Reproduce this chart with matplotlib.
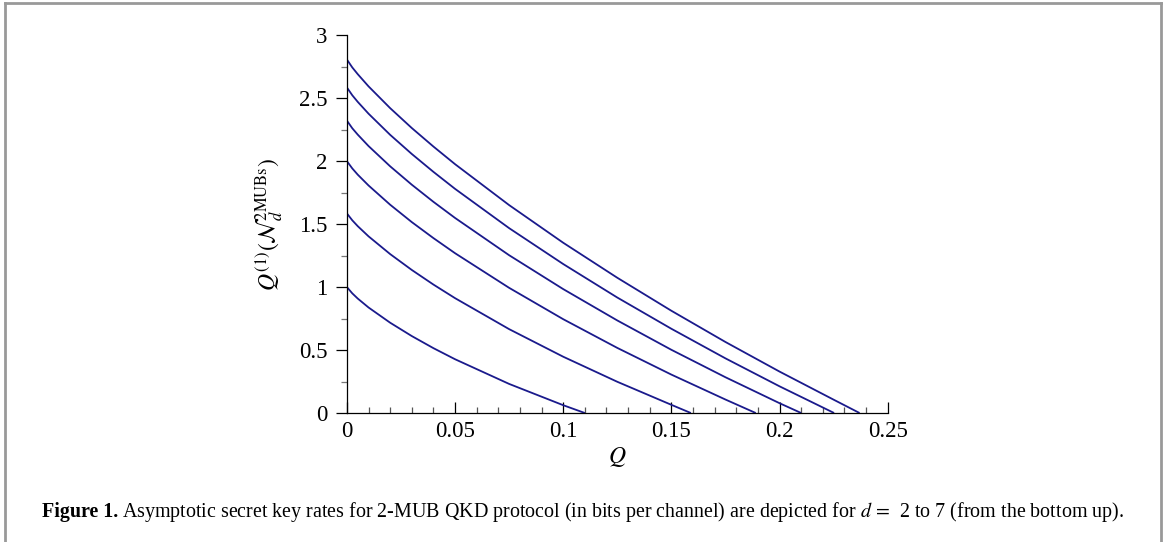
import matplotlib
matplotlib.use("Agg")
import matplotlib.pyplot as plt
from matplotlib.lines import Line2D

plt.rcParams['font.family'] = ['Liberation Serif', 'DejaVu Serif']
plt.rcParams['mathtext.fontset'] = 'stix'

# values, d = 2 ... 7 (bottom to top)
q_grid = [0, 0.0025, 0.005, 0.01, 0.02, 0.03, 0.04, 0.05, 0.075, 0.1, 0.125, 0.15, 0.175, 0.2, 0.225]
rate_d2 = [1.000, 0.950, 0.909, 0.838, 0.717, 0.611, 0.515, 0.427, 0.231, 0.062]
rate_d3 = [1.585, 1.530, 1.484, 1.403, 1.262, 1.136, 1.020, 0.912, 0.666, 0.447, 0.248, 0.065]
rate_d4 = [2.000, 1.942, 1.893, 1.807, 1.654, 1.516, 1.389, 1.269, 0.994, 0.745, 0.517, 0.305, 0.107]
rate_d5 = [2.322, 2.261, 2.211, 2.120, 1.959, 1.813, 1.677, 1.549, 1.253, 0.984, 0.735, 0.502, 0.284, 0.078]
rate_d6 = [2.585, 2.523, 2.471, 2.377, 2.209, 2.057, 1.915, 1.780, 1.468, 1.183, 0.917, 0.669, 0.434, 0.212, 0.002]
rate_d7 = [2.807, 2.744, 2.691, 2.594, 2.421, 2.263, 2.116, 1.976, 1.651, 1.352, 1.074, 0.812, 0.564, 0.329, 0.106]
q_zero = [0.110, 0.159, 0.189, 0.210, 0.2252, 0.237]
rates = [rate_d2, rate_d3, rate_d4, rate_d5, rate_d6, rate_d7]

x_ticks = [0, 0.05, 0.1, 0.15, 0.2, 0.25]
x_labels = ['0', '0.05', '0.1', '0.15', '0.2', '0.25']
y_ticks = [0, 0.5, 1, 1.5, 2, 2.5, 3]
y_labels = ['0', '0.5', '1', '1.5', '2', '2.5', '3']

fig = plt.figure(figsize=(11.68, 5.42), dpi=100)
ax = fig.add_axes([0.297, 0.238, 0.463, 0.697])

for r, qz in zip(rates, q_zero):
    xs = q_grid[:len(r)] + [qz]
    ys = r + [0]
    ax.plot(xs, ys, color='#1a1a8c', lw=1.3, solid_capstyle='butt')

ax.set_xlim(0, 0.25)
ax.set_ylim(0, 3)
for s in ['top', 'right']:
    ax.spines[s].set_visible(False)
for s in ['left', 'bottom']:
    ax.spines[s].set_linewidth(0.9)

ax.set_xticks(x_ticks)
ax.set_xticklabels(x_labels)
ax.set_yticks(y_ticks)
ax.set_yticklabels(y_labels)
ax.set_xticks([i * 0.01 for i in range(26)], minor=True)
ax.set_yticks([i * 0.25 for i in range(13)], minor=True)
ax.tick_params(axis='x', which='major', direction='in', length=8, width=0.9, labelsize=16.5, pad=6)
ax.tick_params(axis='x', which='minor', direction='in', length=4.3, width=0.9, color='#555555')
ax.tick_params(axis='y', which='major', direction='out', length=8, width=0.9, labelsize=16.5, pad=6)
ax.tick_params(axis='y', which='minor', direction='out', length=4.3, width=0.9, color='#777777')

ax.set_xlabel('$Q$', fontsize=17, labelpad=2)
ax.set_ylabel(r'$Q^{(1)}(\mathcal{N}_d^{\mathrm{2MUBs}})$', fontsize=17, labelpad=10)

# frame around the figure (no bottom edge visible)
for xs, ys in [([0.0043, 0.0043], [0, 0.9945]), ([0.0043, 0.994], [0.9945, 0.9945]), ([0.994, 0.994], [0.9945, 0])]:
    fig.add_artist(Line2D(xs, ys, transform=fig.transFigure, color='#999999', lw=2))

# caption
fig.canvas.draw()
renderer = fig.canvas.get_renderer()
cap_y = 0.046
t1 = fig.text(0.036, cap_y, 'Figure 1.', fontsize=14.4, fontweight='bold', va='baseline')
bb = t1.get_window_extent(renderer).transformed(fig.transFigure.inverted())
fig.text(bb.x1 + 0.003, cap_y,
         'Asymptotic secret key rates for 2-MUB QKD protocol (in bits per channel) '
         'are depicted for $d\\, =\\,$ 2 to 7 (from the bottom up).',
         fontsize=14.4, va='baseline')

fig.savefig('out.png', dpi=100)
